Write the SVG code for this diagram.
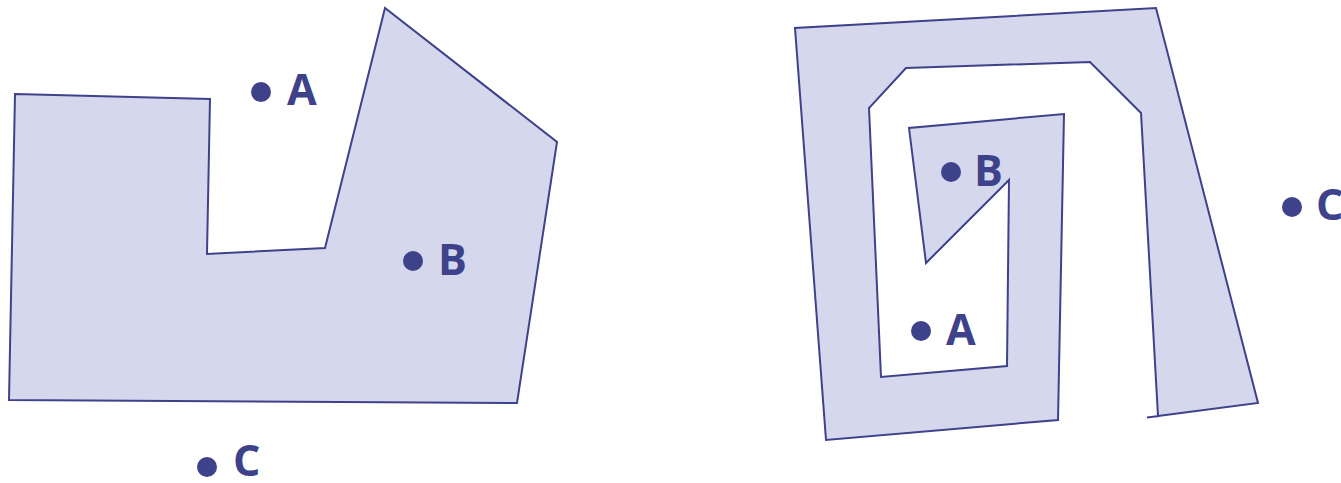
<svg xmlns="http://www.w3.org/2000/svg" width="1341" height="483" viewBox="0 0 1341 483">
<style>
.shape{fill:#d5d8ec;stroke:#3e428b;stroke-width:2;stroke-linejoin:miter}
.dot{fill:#3e428b}
.lbl{font-family:"Open Sans","Noto Sans","Liberation Sans",sans-serif;font-weight:700;font-size:43px;fill:#3e428b}
</style>
<rect width="1341" height="483" fill="#ffffff"/>
<g id="left-polygon">
<polygon class="shape" points="15,94 210,99 207,254 325,248 385,8 557,142 517,403 9,400"/>
</g>
<g id="right-spiral">
<path class="shape" d="M1158,416 L1258,403 L1156,8 L795,28 L826,440 L1058,420 L1064,114 L909,128 L926,263 L1009,180 L1007,366 L881,377 L869,108 L906,68 L1090,62 L1141,113 Z"/>
<line x1="1147" y1="417.5" x2="1159" y2="416" stroke="#3e428b" stroke-width="2"/>
</g>
<g id="left-A"><circle class="dot" cx="261" cy="92" r="10"/><text class="lbl" x="287" y="105">A</text></g>
<g id="left-B"><circle class="dot" cx="413" cy="261" r="10"/><text class="lbl" x="438" y="275">B</text></g>
<g id="left-C"><circle class="dot" cx="207" cy="467" r="10"/><text class="lbl" x="233" y="476">C</text></g>
<g id="right-B"><circle class="dot" cx="951" cy="172" r="10"/><text class="lbl" x="974" y="186">B</text></g>
<g id="right-A"><circle class="dot" cx="921" cy="331" r="10"/><text class="lbl" x="946" y="345">A</text></g>
<g id="right-C"><circle class="dot" cx="1292" cy="207" r="10"/><text class="lbl" x="1316" y="220">C</text></g>
</svg>
